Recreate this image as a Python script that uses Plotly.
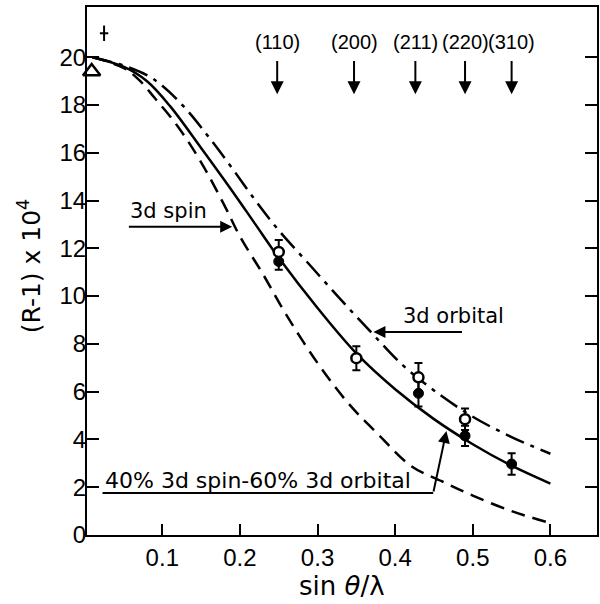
import plotly.graph_objects as go

# ---- theoretical curves ----
mix_x = [0.01, 0.05, 0.08, 0.11, 0.15, 0.19, 0.22, 0.25, 0.30, 0.35, 0.40, 0.45, 0.50, 0.55, 0.60]
mix_y = [20.0, 19.6, 19.0, 17.95, 16.2, 14.4, 13.0, 11.6, 9.5, 7.6, 6.1, 4.85, 3.8, 2.9, 2.15]

spin_x = [0.01, 0.05, 0.07, 0.09, 0.12, 0.15, 0.18, 0.20, 0.23, 0.26, 0.30, 0.34, 0.38, 0.42, 0.46, 0.50, 0.55, 0.60]
spin_y = [20.0, 19.55, 19.05, 18.3, 17.1, 15.6, 13.8, 12.5, 10.9, 9.2, 7.2, 5.5, 4.15, 2.9, 2.25, 1.65, 1.0, 0.5]

orb_x = [0.01, 0.05, 0.08, 0.10, 0.13, 0.16, 0.19, 0.22, 0.25, 0.29, 0.33, 0.37, 0.41, 0.45, 0.50, 0.55, 0.60]
orb_y = [20.0, 19.65, 19.25, 18.8, 17.85, 16.65, 15.35, 14.0, 12.75, 11.3, 9.85, 8.45, 7.1, 6.05, 4.95, 4.1, 3.4]

# ---- measured points ----
open_x = [0.25, 0.35, 0.43, 0.49]
open_y = [11.85, 7.4, 6.6, 4.85]
open_err = [0.5, 0.5, 0.6, 0.45]

fill_x = [0.25, 0.43, 0.49, 0.55]
fill_y = [11.45, 5.93, 4.15, 2.97]
fill_err = [0.35, 0.55, 0.42, 0.45]

tri_x = [0.009]
tri_y = [19.4]
cross_x = [0.025]
cross_y = [21.0]

# ---- Bragg reflections ----
refl_labels = ["(110)", "(200)", "(211)", "(220)", "(310)"]
refl_x = [0.248, 0.347, 0.426, 0.49, 0.55]

xtick_vals = [0.1, 0.2, 0.3, 0.4, 0.5, 0.6]
xtick_text = ["0.1", "0.2", "0.3", "0.4", "0.5", "0.6"]
ytick_vals = [0, 2, 4, 6, 8, 10, 12, 14, 16, 18, 20]
ytick_text = [str(v) for v in ytick_vals]

TICKFONT = dict(family="Liberation Sans", size=24, color="black")
ANNFONT = dict(family="DejaVu Sans", size=21, color="black")

fig = go.Figure()
fig.add_trace(go.Scatter(x=spin_x, y=spin_y, mode="lines", line=dict(color="black", width=2.5, dash="14px,8px", shape="spline"), showlegend=False))
fig.add_trace(go.Scatter(x=orb_x, y=orb_y, mode="lines", line=dict(color="black", width=2.5, dash="20px,7px,4px,7px", shape="spline"), showlegend=False))
fig.add_trace(go.Scatter(x=mix_x, y=mix_y, mode="lines", line=dict(color="black", width=2.5, shape="spline"), showlegend=False))

fig.add_trace(go.Scatter(x=fill_x, y=fill_y, mode="markers",
                         marker=dict(symbol="circle", size=10, color="black", line=dict(color="black", width=1)),
                         error_y=dict(type="data", array=fill_err, color="black", thickness=2, width=4),
                         showlegend=False))
fig.add_trace(go.Scatter(x=open_x, y=open_y, mode="markers",
                         marker=dict(symbol="circle", size=10, color="white", line=dict(color="black", width=2.5)),
                         error_y=dict(type="data", array=open_err, color="black", thickness=2, width=4),
                         showlegend=False))
fig.add_trace(go.Scatter(x=tri_x, y=tri_y, mode="markers",
                         marker=dict(symbol="triangle-up", size=15, color="white", line=dict(color="black", width=2.5)),
                         showlegend=False, cliponaxis=False))
fig.add_trace(go.Scatter(x=cross_x, y=cross_y, mode="markers",
                         marker=dict(symbol="line-ns", size=11, line=dict(color="black", width=2)),
                         showlegend=False))
fig.add_trace(go.Scatter(x=cross_x, y=cross_y, mode="markers",
                         marker=dict(symbol="line-ew", size=6, line=dict(color="black", width=2)),
                         showlegend=False))

annotations = []
for lab, rx in zip(refl_labels, refl_x):
    annotations.append(dict(x=rx, y=20.65, text=lab, showarrow=False, xanchor="center", yanchor="middle",
                            font=dict(family="Liberation Sans", size=20, color="black")))
    annotations.append(dict(x=rx, y=18.45, ax=rx, ay=19.9, axref="x", ayref="y", text="",
                            showarrow=True, arrowhead=2, arrowsize=1.3, arrowwidth=2, arrowcolor="black"))

# 3d spin
annotations.append(dict(x=0.056, y=13.56, text="3d spin", showarrow=False, xanchor="left", yanchor="middle", font=ANNFONT))
annotations.append(dict(x=0.19, y=12.9, ax=0.055, ay=12.9, axref="x", ayref="y", text="",
                        showarrow=True, arrowhead=2, arrowsize=1.2, arrowwidth=2, arrowcolor="black"))
# 3d orbital
annotations.append(dict(x=0.407, y=9.16, text="3d orbital", showarrow=False, xanchor="left", yanchor="middle", font=ANNFONT))
annotations.append(dict(x=0.372, y=8.5, ax=0.488, ay=8.5, axref="x", ayref="y", text="",
                        showarrow=True, arrowhead=2, arrowsize=1.2, arrowwidth=2, arrowcolor="black"))
# 40% / 60%
annotations.append(dict(x=0.024, y=2.3, text="40% 3d spin-60% 3d orbital", showarrow=False, xanchor="left", yanchor="middle",
                        font=dict(family="DejaVu Sans", size=22, color="black")))
annotations.append(dict(x=0.466, y=4.35, ax=0.449, ay=1.76, axref="x", ayref="y", text="",
                        showarrow=True, arrowhead=2, arrowsize=1.2, arrowwidth=2, arrowcolor="black"))

# axis titles
annotations.append(dict(xref="paper", yref="paper", x=0.5, y=-0.0966, text="sin <i>θ</i>/λ", showarrow=False,
                        xanchor="center", yanchor="middle", font=dict(family="DejaVu Sans", size=26, color="black")))
annotations.append(dict(xref="paper", yref="paper", x=-0.1113, y=0.5095, text="(R-1) x 10<sup>4</sup>", showarrow=False,
                        textangle=-90, xanchor="center", yanchor="middle", font=dict(family="DejaVu Sans", size=25, color="black")))

fig.update_layout(
    width=600, height=604,
    margin=dict(l=87, r=1, t=7, b=69),
    plot_bgcolor="white", paper_bgcolor="white",
    annotations=annotations,
    shapes=[dict(type="line", xref="x", yref="y", x0=0.023, y0=1.76, x1=0.449, y1=1.76,
                 line=dict(color="black", width=2))],
    xaxis=dict(range=[0.003, 0.66], showline=True, linewidth=2, linecolor="black", mirror=True,
               ticks="inside", ticklen=11, tickwidth=2, tickcolor="black",
               tickvals=xtick_vals, ticktext=xtick_text, tickfont=TICKFONT,
               showgrid=False, zeroline=False),
    yaxis=dict(range=[0, 22.1], showline=True, linewidth=2, linecolor="black", mirror="ticks",
               ticks="inside", ticklen=12, tickwidth=2, tickcolor="black",
               tickvals=ytick_vals, ticktext=ytick_text, tickfont=TICKFONT,
               ticklabelstandoff=-6,
               showgrid=False, zeroline=False),
)

fig.write_html("out.html")
